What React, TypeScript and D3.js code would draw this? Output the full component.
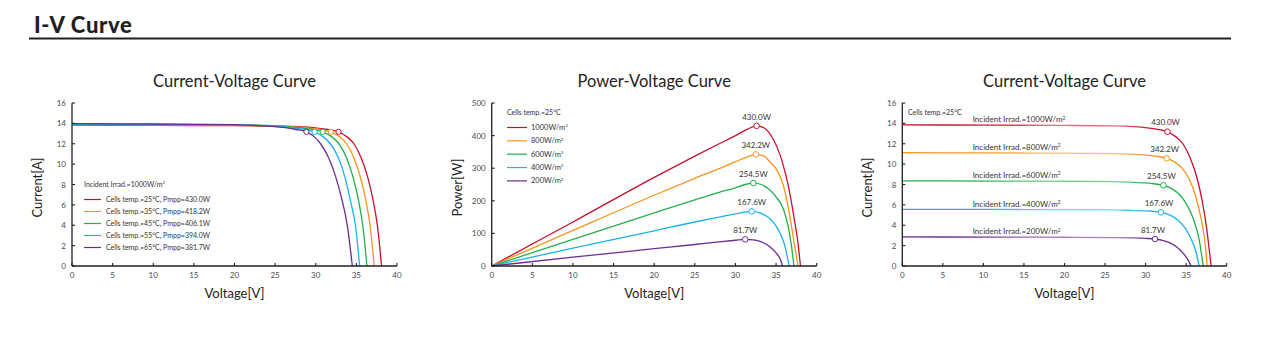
import React from "react";
import * as d3 from "d3";

type Pt = [number, number];

// ---------- data ----------
const xTicks = [0, 5, 10, 15, 20, 25, 30, 35, 40];
const currentTicks = [0, 2, 4, 6, 8, 10, 12, 14, 16];
const powerTicks = [0, 100, 200, 300, 400, 500];

const colors = ["#c8102e", "#f7941d", "#22b04b", "#1ab2ea", "#6b2c91"];

// Chart 1: I-V at different cell temperatures (1000 W/m2)
const tempLabels = [
  "Cells temp.=25°C, Pmpp=430.0W",
  "Cells temp.=35°C, Pmpp=418.2W",
  "Cells temp.=45°C, Pmpp=406.1W",
  "Cells temp.=55°C, Pmpp=394.0W",
  "Cells temp.=65°C, Pmpp=381.7W",
];
const ivT25: Pt[] = [[0, 13.82], [10, 13.8], [20, 13.78], [26, 13.73], [28, 13.67], [30, 13.55], [31.5, 13.4], [32.8, 13.17], [33.8, 12.7], [34.7, 12.0], [35.6, 10.6], [36.4, 8.7], [37.1, 6.3], [37.6, 3.9], [38.1, 0]];
const ivT35: Pt[] = [[0, 13.86], [10, 13.84], [20, 13.81], [25, 13.76], [27, 13.69], [29, 13.56], [30.6, 13.4], [31.85, 13.17], [32.9, 12.7], [33.8, 12.0], [34.7, 10.6], [35.5, 8.7], [36.2, 6.3], [36.7, 3.9], [37.2, 0]];
const ivT45: Pt[] = [[0, 13.9], [10, 13.88], [20, 13.84], [24, 13.79], [26, 13.71], [28, 13.57], [29.6, 13.4], [30.85, 13.17], [31.95, 12.7], [32.85, 12.0], [33.8, 10.6], [34.6, 8.7], [35.3, 6.3], [35.8, 3.9], [36.3, 0]];
const ivT55: Pt[] = [[0, 13.93], [10, 13.91], [20, 13.86], [23, 13.8], [25, 13.72], [27, 13.58], [28.6, 13.4], [29.85, 13.17], [30.9, 12.7], [31.8, 12.0], [32.8, 10.6], [33.6, 8.7], [34.3, 6.3], [34.9, 3.9], [35.4, 0]];
const ivT65: Pt[] = [[0, 13.97], [10, 13.94], [20, 13.88], [22, 13.82], [24, 13.74], [26, 13.6], [27.6, 13.4], [28.85, 13.17], [29.8, 12.7], [30.6, 12.0], [31.6, 10.6], [32.4, 8.9], [33.2, 6.6], [33.9, 3.9], [34.5, 0]];
const tempCurves = [ivT25, ivT35, ivT45, ivT55, ivT65];
const tempMpp: Pt[] = [[32.8, 13.17], [31.85, 13.17], [30.85, 13.17], [29.85, 13.17], [28.85, 13.17]];

// Chart 2: P-V at different irradiances (25°C)
const irrLegend = ["1000W/m", "800W/m", "600W/m", "400W/m", "200W/m"];
const pv1000: Pt[] = [[0, 0], [10, 135], [20, 272], [25, 337], [28, 375], [30, 400], [31.5, 420], [32.6, 430], [33.5, 424], [34.6, 391], [35.5, 340], [36.1, 288], [36.5, 247], [37.2, 150], [37.7, 70], [38.0, 0]];
const pv800: Pt[] = [[0, 0], [10, 109], [20, 217], [25, 269], [28, 299], [30, 320], [31.5, 335], [32.5, 342.2], [33.5, 337], [34.3, 318], [35.0, 298], [35.9, 247], [36.5, 180], [37.1, 90], [37.7, 0]];
const pv600: Pt[] = [[0, 0], [10, 82], [20, 163], [25, 203], [28, 226], [30, 240], [31.2, 250], [32.2, 254.5], [33.2, 250], [34.2, 234], [35.0, 212], [35.9, 175], [36.5, 120], [36.9, 60], [37.2, 0]];
const pv400: Pt[] = [[0, 0], [10, 55], [20, 108], [25, 135], [28, 150], [30, 160], [31, 165], [32.0, 167.6], [33, 163], [34, 150], [34.8, 130], [35.5, 100], [36.1, 60], [36.6, 0]];
const pv200: Pt[] = [[0, 0], [10, 27], [20, 53], [25, 66], [28, 74], [30, 79], [31.2, 81.7], [32.2, 80], [33.2, 74], [34.2, 60], [35, 40], [35.5, 22], [35.8, 0]];
const pvCurves = [pv1000, pv800, pv600, pv400, pv200];
const pvMpp: Pt[] = [[32.6, 430], [32.5, 342.2], [32.2, 254.5], [32.0, 167.6], [31.2, 81.7]];
const mppLabels = ["430.0W", "342.2W", "254.5W", "167.6W", "81.7W"];

// Chart 3: I-V at different irradiances (25°C)
const irrLabels = [
  "Incident Irrad.=1000W/m",
  "Incident Irrad.=800W/m",
  "Incident Irrad.=600W/m",
  "Incident Irrad.=400W/m",
  "Incident Irrad.=200W/m",
];
const ivG1000: Pt[] = [[0, 13.85], [10, 13.83], [20, 13.8], [26, 13.75], [28, 13.7], [30, 13.58], [31.5, 13.42], [32.7, 13.18], [33.7, 12.7], [34.6, 12.0], [35.5, 10.6], [36.3, 8.76], [37, 6.3], [37.5, 3.86], [38.07, 0]];
const ivG800: Pt[] = [[0, 11.12], [10, 11.1], [20, 11.07], [26, 11.03], [28, 10.98], [30, 10.88], [31.5, 10.75], [32.6, 10.57], [33.6, 10.2], [34.5, 9.6], [35.4, 8.5], [36.2, 6.8], [36.9, 4.4], [37.3, 2.5], [37.6, 0]];
const ivG600: Pt[] = [[0, 8.36], [10, 8.34], [20, 8.32], [26, 8.28], [28, 8.23], [30, 8.15], [31.2, 8.05], [32.2, 7.92], [33.2, 7.6], [34.2, 7.0], [35.1, 6.0], [35.9, 4.6], [36.6, 2.6], [37.1, 0]];
const ivG400: Pt[] = [[0, 5.56], [10, 5.55], [20, 5.53], [26, 5.5], [28, 5.47], [30, 5.41], [31, 5.35], [31.9, 5.27], [33, 5.0], [34, 4.5], [34.9, 3.7], [35.7, 2.5], [36.2, 1.4], [36.6, 0]];
const ivG200: Pt[] = [[0, 2.85], [10, 2.84], [20, 2.82], [26, 2.79], [28, 2.76], [30, 2.71], [31.16, 2.65], [32.2, 2.5], [33.2, 2.2], [34.1, 1.7], [34.8, 1.1], [35.3, 0.5], [35.6, 0]];
const irrCurves = [ivG1000, ivG800, ivG600, ivG400, ivG200];
const irrMpp: Pt[] = [[32.7, 13.18], [32.6, 10.57], [32.2, 7.92], [31.9, 5.27], [31.16, 2.65]];

// ---------- layout ----------
const FONT = "Lato, 'Noto Sans', sans-serif";
const AXIS = "#231f20";
const TICK_TXT = "#4a4a4a";
const TOP = 103;
const BOTTOM = 266;

interface PanelProps {
  left: number;
  right: number;
  title: string;
  yLabel: string;
  yMax: number;
  yTicks: number[];
  children: (x: d3.ScaleLinear<number, number>, y: d3.ScaleLinear<number, number>) => React.ReactNode;
}

function Panel({ left, right, title, yLabel, yMax, yTicks, children }: PanelProps) {
  const x = d3.scaleLinear().domain([0, 40]).range([left, right]);
  const y = d3.scaleLinear().domain([0, yMax]).range([BOTTOM, TOP]);
  const cx = (left + right) / 2;
  return (
    <g>
      <text x={cx} y={87} textAnchor="middle" fontSize={16.5} fill="#222" fontFamily={FONT}>
        {title}
      </text>
      <text
        transform={`translate(${left - 30},${(TOP + BOTTOM) / 2 + 3}) rotate(-90)`}
        textAnchor="middle"
        fontSize={13}
        fill="#222"
        fontFamily={FONT}
      >
        {yLabel}
      </text>
      <text x={cx} y={298} textAnchor="middle" fontSize={13} fill="#222" fontFamily={FONT}>
        Voltage[V]
      </text>
      {children(x, y)}
      {/* axes */}
      <line x1={left} x2={left} y1={TOP} y2={BOTTOM} stroke={AXIS} strokeWidth={1.3} />
      <line x1={left} x2={right} y1={BOTTOM} y2={BOTTOM} stroke={AXIS} strokeWidth={1.3} />
      {yTicks.map((t) => (
        <g key={"y" + t}>
          <line x1={left} x2={left + 3} y1={y(t)} y2={y(t)} stroke={AXIS} strokeWidth={1.1} />
          <text x={left - 6} y={y(t) + 3} textAnchor="end" fontSize={8} fill={TICK_TXT} fontFamily={FONT}>
            {t}
          </text>
        </g>
      ))}
      {xTicks.map((t) => (
        <g key={"x" + t}>
          <line x1={x(t)} x2={x(t)} y1={BOTTOM} y2={BOTTOM - 3} stroke={AXIS} strokeWidth={1.1} />
          <text x={x(t)} y={BOTTOM + 12} textAnchor="middle" fontSize={8} fill={TICK_TXT} fontFamily={FONT}>
            {t}
          </text>
        </g>
      ))}
    </g>
  );
}

function pathOf(x: d3.ScaleLinear<number, number>, y: d3.ScaleLinear<number, number>, pts: Pt[]) {
  return (
    d3
      .line<Pt>()
      .x((d) => x(d[0]))
      .y((d) => y(d[1]))
      .curve(d3.curveMonotoneX)(pts) || ""
  );
}

function Sup({ base }: { base: string }) {
  return (
    <>
      {base}
      <tspan fontSize="0.6em" dy="-0.6em">2</tspan>
    </>
  );
}

export default function App() {
  const order1 = [0, 1, 2, 3, 4];
  return (
    <svg
      width={1268}
      height={355}
      style={{ position: "absolute", left: 0, top: 0, background: "#fff" }}
      fontFamily={FONT}
    >
      <rect x={0} y={0} width={1268} height={355} fill="#fff" />
      <text x={34} y={33} fontSize={22} fontWeight={900} letterSpacing={0.7} fill="#231f20" fontFamily={FONT}>
        I-V Curve
      </text>
      <line x1={29} x2={1231} y1={38.5} y2={38.5} stroke="#231f20" strokeWidth={2.2} />

      {/* Chart 1 */}
      <Panel left={72} right={397} title="Current-Voltage Curve" yLabel="Current[A]" yMax={16} yTicks={currentTicks}>
        {(x, y) => (
          <g>
            <text x={84} y={187} fontSize={7} fill="#333" fontFamily={FONT}>
              <Sup base="Incident Irrad.=1000W/m" />
            </text>
            {tempLabels.map((l, i) => (
              <g key={l}>
                <line x1={84} x2={101} y1={199.5 + i * 12} y2={199.5 + i * 12} stroke={colors[i]} strokeWidth={1.2} />
                <text x={106} y={202 + i * 12} fontSize={7} fill="#333" fontFamily={FONT}>
                  {l}
                </text>
              </g>
            ))}
            {order1.map((i) => (
              <path key={i} d={pathOf(x, y, tempCurves[i])} fill="none" stroke={colors[i]} strokeWidth={1.3} />
            ))}
            {order1.map((i) => (
              <circle key={"c" + i} cx={x(tempMpp[i][0])} cy={y(tempMpp[i][1])} r={2.6} fill="#fff" stroke={colors[i]} strokeWidth={1} />
            ))}
          </g>
        )}
      </Panel>

      {/* Chart 2 */}
      <Panel left={491.7} right={816.7} title="Power-Voltage Curve" yLabel="Power[W]" yMax={500} yTicks={powerTicks}>
        {(x, y) => (
          <g>
            <text x={507} y={115} fontSize={7} fill="#333" fontFamily={FONT}>
              Cells temp.=25°C
            </text>
            {irrLegend.map((l, i) => (
              <g key={l}>
                <line x1={507} x2={527} y1={127.5 + i * 13.35} y2={127.5 + i * 13.35} stroke={colors[i]} strokeWidth={1.2} />
                <text x={531} y={130 + i * 13.35} fontSize={7.5} fill="#333" fontFamily={FONT}>
                  <Sup base={l} />
                </text>
              </g>
            ))}
            {order1.map((i) => (
              <path key={i} d={pathOf(x, y, pvCurves[i])} fill="none" stroke={colors[i]} strokeWidth={1.3} />
            ))}
            {order1.map((i) => (
              <g key={"c" + i}>
                <circle cx={x(pvMpp[i][0])} cy={y(pvMpp[i][1])} r={2.8} fill="#fff" stroke={colors[i]} strokeWidth={1} />
                <text x={x(pvMpp[i][0])} y={y(pvMpp[i][1]) - 6} textAnchor="middle" fontSize={8} fill="#333" fontFamily={FONT}>
                  {mppLabels[i]}
                </text>
              </g>
            ))}
          </g>
        )}
      </Panel>

      {/* Chart 3 */}
      <Panel left={902.3} right={1226.7} title="Current-Voltage Curve" yLabel="Current[A]" yMax={16} yTicks={currentTicks}>
        {(x, y) => (
          <g>
            <defs>
              {order1.map((i) => {
                const light = d3.interpolateRgb(colors[i], "#ffffff")(0.4);
                return (
                  <linearGradient key={i} id={"g" + i} gradientUnits="userSpaceOnUse" x1={x(0)} x2={x(40)} y1={0} y2={0}>
                    <stop offset="0" stopColor={colors[i]} />
                    <stop offset="0.22" stopColor={colors[i]} />
                    <stop offset="0.45" stopColor={light} />
                    <stop offset="0.66" stopColor={light} />
                    <stop offset="0.76" stopColor={colors[i]} />
                    <stop offset="1" stopColor={colors[i]} />
                  </linearGradient>
                );
              })}
            </defs>
            <text x={908} y={115} fontSize={7} fill="#333" fontFamily={FONT}>
              Cells temp.=25°C
            </text>
            {order1.map((i) => (
              <path key={i} d={pathOf(x, y, irrCurves[i])} fill="none" stroke={`url(#g${i})`} strokeWidth={1.3} />
            ))}
            {order1.map((i) => (
              <g key={"c" + i}>
                <text x={972.7} y={y(irrCurves[i][0][1]) - 2.5} fontSize={8} fill="#333" fontFamily={FONT}>
                  <Sup base={irrLabels[i]} />
                </text>
                <circle cx={x(irrMpp[i][0])} cy={y(irrMpp[i][1])} r={2.8} fill="#fff" stroke={colors[i]} strokeWidth={1} />
                <text x={x(irrMpp[i][0]) - 2} y={y(irrMpp[i][1]) - 6.5} textAnchor="middle" fontSize={8} fill="#333" fontFamily={FONT}>
                  {mppLabels[i]}
                </text>
              </g>
            ))}
          </g>
        )}
      </Panel>
    </svg>
  );
}
